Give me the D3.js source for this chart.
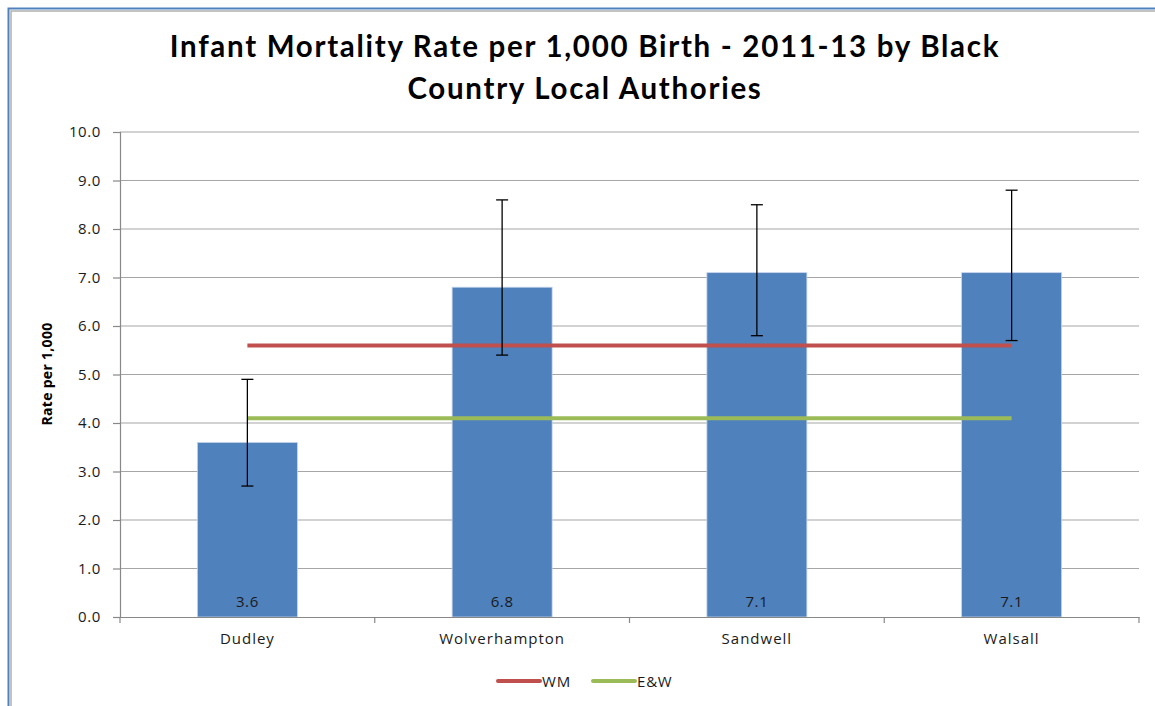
<!DOCTYPE html>
<html><head><meta charset="utf-8">
<script src="https://cdn.jsdelivr.net/npm/d3@7"></script>
<style>
html,body{margin:0;padding:0;background:#fff;}
svg{display:block;}
</style></head>
<body>
<svg id="chart" width="1155" height="706"></svg>
<script>
const categories = ["Dudley","Wolverhampton","Sandwell","Walsall"];
const rates = [3.6, 6.8, 7.1, 7.1];
const lowerCI = [2.7, 5.4, 5.8, 5.7];
const upperCI = [4.9, 8.6, 8.5, 8.8];
const wmValues = [5.6, 5.6, 5.6, 5.6];
const ewValues = [4.1, 4.1, 4.1, 4.1];
const yTicks = [0,1,2,3,4,5,6,7,8,9,10];
const titleLines = ["Infant Mortality Rate per 1,000 Birth - 2011-13 by Black","Country Local Authories"];
const yTitle = "Rate per 1,000";
const legendItems = [{name:"WM", color:"#c0504d"},{name:"E&W", color:"#9bbb59"}];

const FONT = "'Open Sans',sans-serif";
const svg = d3.select("#chart").attr("font-family", FONT);
// frame
svg.append("rect").attr("x",8.5).attr("y",8.5).attr("width",1160).attr("height",720)
  .attr("fill","none").attr("stroke","#4f81bd").attr("stroke-width",2);
svg.append("rect").attr("x",11).attr("y",11).attr("width",1160).attr("height",720)
  .attr("fill","none").attr("stroke","#b0b0b0").attr("stroke-width",1.5);

const m = {left:120, right:1139, top:132, bottom:617};
const band = d3.scaleBand().domain(categories).range([m.left,m.right]);
const y = d3.scaleLinear().domain([0,10]).range([m.bottom,m.top]);

// gridlines
svg.append("g").selectAll("line").data(yTicks.filter(d=>d>0)).join("line")
  .attr("x1",m.left).attr("x2",m.right).attr("y1",d=>y(d)).attr("y2",d=>y(d))
  .attr("stroke","#a6a6a6").attr("stroke-width",1.2);

// y axis
const yAxis = svg.append("g").attr("transform",`translate(${m.left},0)`)
  .call(d3.axisLeft(y).tickValues(yTicks).tickFormat(d3.format(".1f")).tickSize(7).tickPadding(12));
yAxis.attr("font-family",FONT);
yAxis.select(".domain").attr("stroke","#888").attr("stroke-width",1.2);
yAxis.selectAll(".tick line").attr("stroke","#888").attr("stroke-width",1.2);
yAxis.selectAll("text").attr("font-size",15).attr("fill","#1a1a1a").attr("letter-spacing","0.6px");

// bars
const bw = 100;
svg.append("g").selectAll("rect").data(categories).join("rect")
  .attr("x",(d)=>band(d)+band.bandwidth()/2-bw/2).attr("width",bw)
  .attr("y",(d,i)=>y(rates[i])).attr("height",(d,i)=>y(0)-y(rates[i]))
  .attr("fill","#4f81bd").attr("stroke","#c6d5ea").attr("stroke-width",0.8);

// x axis
const xAxis = svg.append("g").attr("transform",`translate(0,${m.bottom})`)
  .call(d3.axisBottom(band).tickSize(0).tickPadding(16));
xAxis.attr("font-family",FONT);
xAxis.select(".domain").attr("stroke","#888").attr("stroke-width",1.2);
xAxis.selectAll("text").attr("font-size",15).attr("fill","#1a1a1a").attr("letter-spacing","1px");
const bounds = categories.map(c=>band(c)).concat([m.right]);
svg.append("g").selectAll("line").data(bounds).join("line")
  .attr("x1",d=>d).attr("x2",d=>d).attr("y1",m.bottom).attr("y2",m.bottom+6)
  .attr("stroke","#888").attr("stroke-width",1.2);

// reference lines
const cx = d=>band(d)+band.bandwidth()/2;
const line = d3.line().x((d,i)=>cx(categories[i])).y(d=>y(d));
svg.append("path").datum(ewValues).attr("d",line).attr("fill","none").attr("stroke","#9bbb59").attr("stroke-width",4);
svg.append("path").datum(wmValues).attr("d",line).attr("fill","none").attr("stroke","#c0504d").attr("stroke-width",4);

// error bars
const eg = svg.append("g").attr("stroke","#000").attr("stroke-width",1.3);
categories.forEach((c,i)=>{
  const xc = cx(c);
  eg.append("line").attr("x1",xc).attr("x2",xc).attr("y1",y(lowerCI[i])).attr("y2",y(upperCI[i]));
  eg.append("line").attr("x1",xc-6).attr("x2",xc+6).attr("y1",y(lowerCI[i])).attr("y2",y(lowerCI[i]));
  eg.append("line").attr("x1",xc-6).attr("x2",xc+6).attr("y1",y(upperCI[i])).attr("y2",y(upperCI[i]));
});

// data labels
svg.append("g").selectAll("text").data(categories).join("text")
  .attr("x",d=>cx(d)).attr("y",607).attr("text-anchor","middle")
  .attr("font-size",15).attr("fill","#1a1a1a").attr("letter-spacing","0.6px")
  .text((d,i)=>d3.format(".1f")(rates[i]));

// title
svg.append("g").selectAll("text").data(titleLines).join("text")
  .attr("x",585).attr("y",(d,i)=>57+i*42).attr("text-anchor","middle")
  .attr("font-family","Lato,sans-serif")
  .attr("font-size",29.5).attr("font-weight","bold").attr("fill","#000")
  .attr("letter-spacing","1.7px")
  .text(d=>d);

// y title
svg.append("text").attr("transform",`translate(52,374) rotate(-90)`).attr("text-anchor","middle")
  .attr("font-size",14).attr("font-weight","bold").attr("fill","#000")
  .attr("letter-spacing","0.3px").text(yTitle);

// legend
const lg = svg.append("g");
const lx = [498, 593];
legendItems.forEach((it,i)=>{
  lg.append("line").attr("x1",lx[i]).attr("x2",lx[i]+42).attr("y1",681).attr("y2",681)
    .attr("stroke",it.color).attr("stroke-width",4).attr("stroke-linecap","round");
  lg.append("text").attr("x",lx[i]+44).attr("y",687).attr("font-size",15)
    .attr("fill","#1a1a1a").attr("letter-spacing","0.8px").text(it.name);
});
</script>
</body></html>
